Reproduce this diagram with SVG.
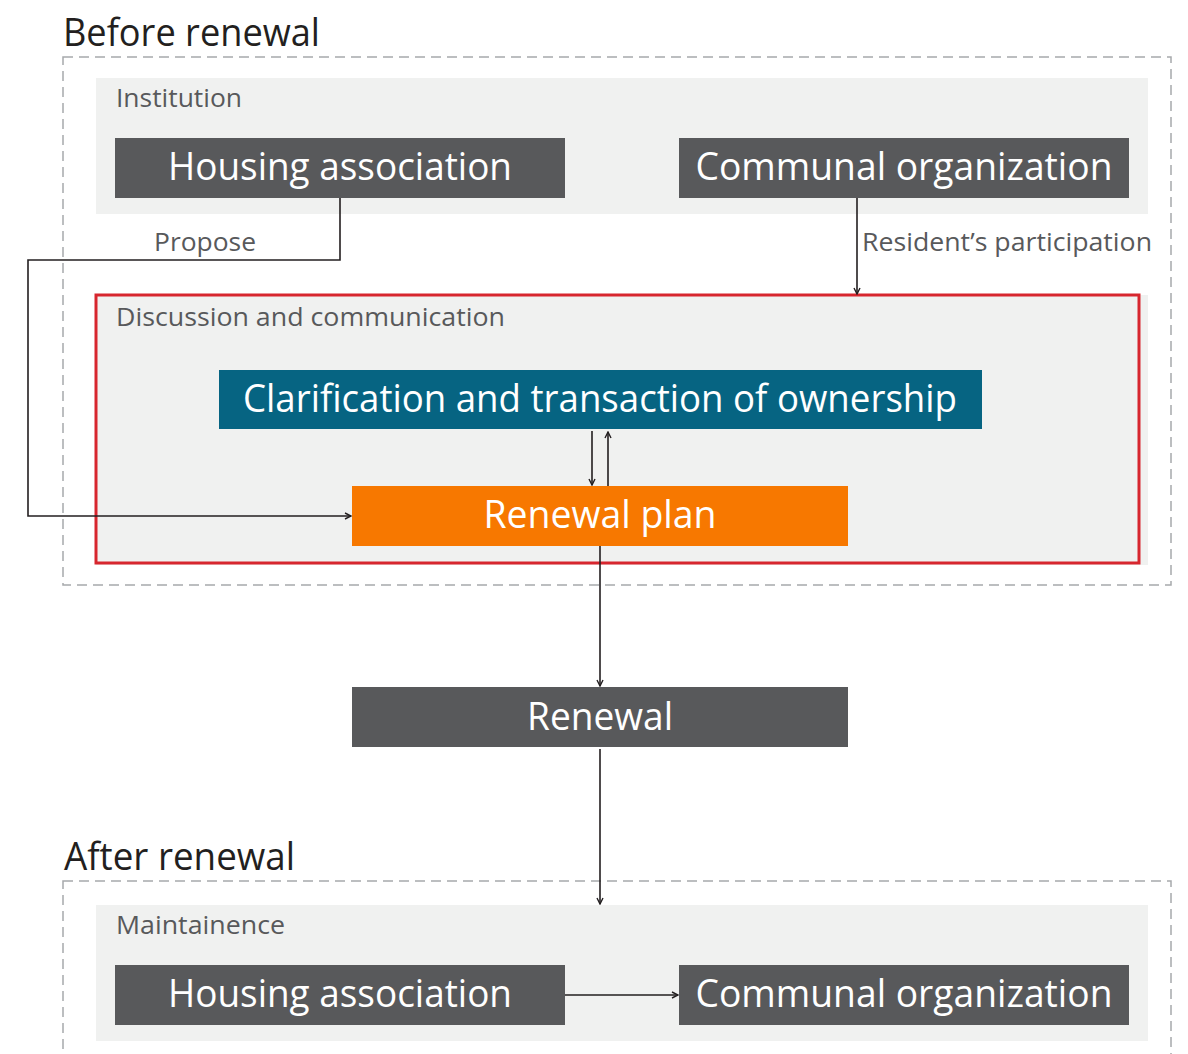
<svg xmlns="http://www.w3.org/2000/svg" width="1188" height="1054" viewBox="0 0 1188 1054">
<defs>
<style>
.title{font-family:"Open Sans","Noto Sans",sans-serif;font-size:38px;fill:#231f20}
.lbl{font-family:"Open Sans","Noto Sans",sans-serif;font-size:25px;fill:#58595b}
.nt{font-family:"Open Sans","Noto Sans",sans-serif;font-size:38px;fill:#ffffff;text-anchor:middle}
.dash{fill:none;stroke:#a7a9ac;stroke-width:1.5;stroke-dasharray:10 6}
.panel{fill:#f0f1f0}
.gray{fill:#58595b}
.conn{fill:none;stroke:#231f20;stroke-width:1.6}
</style>
<marker id="arr" viewBox="0 0 8 8" refX="7" refY="4" markerWidth="8" markerHeight="8" markerUnits="userSpaceOnUse" orient="auto">
<path d="M1,1 L7,4 L1,7" fill="none" stroke="#231f20" stroke-width="1.4"/>
</marker>
</defs>

<g id="before">
<text class="title" x="63" y="46" textLength="257" lengthAdjust="spacingAndGlyphs">Before renewal</text>
<rect class="dash" x="63" y="57" width="1108" height="528"/>
</g>

<g id="institution">
<rect class="panel" x="96" y="78" width="1052" height="136"/>
<text class="lbl" x="116" y="107" textLength="126" lengthAdjust="spacingAndGlyphs">Institution</text>
</g>

<g id="housing1">
<rect class="gray" x="115" y="138" width="450" height="60"/>
<text class="nt" x="340" y="180" textLength="344" lengthAdjust="spacingAndGlyphs">Housing association</text>
</g>

<g id="communal1">
<rect class="gray" x="679" y="138" width="450" height="60"/>
<text class="nt" x="904" y="180" textLength="417" lengthAdjust="spacingAndGlyphs">Communal organization</text>
</g>

<g id="discussion">
<rect class="panel" x="96" y="295" width="1052" height="270"/>
<rect x="96" y="295" width="1043" height="268" fill="none" stroke="#d7262e" stroke-width="3"/>
<text class="lbl" x="116" y="326" textLength="389" lengthAdjust="spacingAndGlyphs">Discussion and communication</text>
</g>

<g id="clarification">
<rect x="219" y="370" width="763" height="59" fill="#066482"/>
<text class="nt" x="600" y="412" textLength="714" lengthAdjust="spacingAndGlyphs">Clarification and transaction of ownership</text>
</g>

<g id="renewalplan">
<rect x="352" y="486" width="496" height="60" fill="#f77800"/>
<text class="nt" x="600" y="528" textLength="233" lengthAdjust="spacingAndGlyphs">Renewal plan</text>
</g>

<g id="renewal">
<rect class="gray" x="352" y="687" width="496" height="60"/>
<text class="nt" x="600" y="730" textLength="146" lengthAdjust="spacingAndGlyphs">Renewal</text>
</g>

<g id="after">
<text class="title" x="64" y="870" textLength="231" lengthAdjust="spacingAndGlyphs">After renewal</text>
<rect class="dash" x="63" y="881" width="1108" height="200"/>
</g>

<g id="maintenance">
<rect class="panel" x="96" y="905" width="1052" height="136"/>
<text class="lbl" x="116" y="934" textLength="169" lengthAdjust="spacingAndGlyphs">Maintainence</text>
</g>

<g id="housing2">
<rect class="gray" x="115" y="965" width="450" height="60"/>
<text class="nt" x="340" y="1007" textLength="344" lengthAdjust="spacingAndGlyphs">Housing association</text>
</g>

<g id="communal2">
<rect class="gray" x="679" y="965" width="450" height="60"/>
<text class="nt" x="904" y="1007" textLength="417" lengthAdjust="spacingAndGlyphs">Communal organization</text>
</g>

<g id="connectors">
<path class="conn" d="M340,198 V260 H28 V516 H351" marker-end="url(#arr)"/>
<text class="lbl" x="154" y="251" textLength="102" lengthAdjust="spacingAndGlyphs">Propose</text>
<path class="conn" d="M857,198 V294" marker-end="url(#arr)"/>
<text class="lbl" x="862" y="251" textLength="290" lengthAdjust="spacingAndGlyphs">Resident’s participation</text>
<path class="conn" d="M592,431 V485" marker-end="url(#arr)"/>
<path class="conn" d="M608,486 V432" marker-end="url(#arr)"/>
<path class="conn" d="M600,546 V686" marker-end="url(#arr)"/>
<path class="conn" d="M600,749 V904" marker-end="url(#arr)"/>
<path class="conn" d="M565,995 H678" marker-end="url(#arr)"/>
</g>
</svg>
